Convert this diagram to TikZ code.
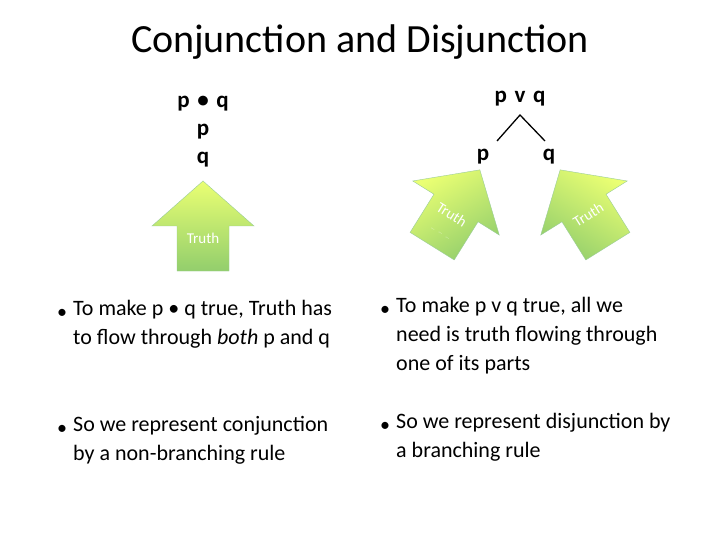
\documentclass[tikz,border=0pt]{standalone}
\usepackage{fontspec}
\setmainfont{Carlito}
\begin{document}
\begin{tikzpicture}[x=1pt,y=-1pt,
  txt/.style={anchor=north west,inner sep=0pt,font=\fontsize{22}{29}\selectfont,align=flush left,text width=262pt},
  bul/.style={anchor=center,inner sep=0pt,font=\fontsize{20}{29}\selectfont},
  sym/.style={inner sep=0pt,font=\fontsize{23}{29}\selectfont\bfseries},
  arr/.style={draw=green!50!black!40,line width=0.4pt,top color=green!15!yellow!55!white,bottom color=green!55!black!50!white!85!yellow},
  lab/.style={text=white,inner sep=0pt,font=\fontsize{15}{15}\selectfont}]
\useasboundingbox (0,0) rectangle (720,540);
\fill[white] (0,0) rectangle (720,540);
\node[inner sep=0pt,font=\fontsize{40}{40}\selectfont] (title) at (360,42) {Conjunction and Disjunction};
% left formulas
\node[sym] (pq) at (203,104) {p\,\,\textbullet\,\,q};
\node[sym] (lp) at (203,132) {p};
\node[sym] (lq) at (203,160) {q};
% right formulas
\node[sym] (pvq) at (520,99) {p\,\,v\,\,q};
\node[sym] (rp) at (483,157) {p};
\node[sym] (rq) at (549,157) {q};
\coordinate (apex) at (520,115);
\draw[line width=1.3pt] (497,141) -- (apex) -- (545,141);
% arrows
\newcommand\uparr[1]{%
  \path[arr,#1] (0,-45) -- (51,0) -- (26,0) -- (26,45) -- (-26,45) -- (-26,0) -- (-51,0) -- cycle;}
\begin{scope}[shift={(203,226)}]
  \uparr{}
  \node[lab] (t1) at (0,12) {Truth};
\end{scope}
\begin{scope}[shift={(456,208)},rotate=-32]
  \uparr{shading angle=32}
  \node[lab,rotate=-32] (t2) at (0,8) {Truth};
  \node[lab,rotate=-32,font=\tiny] (d2) at (0,30) {\dots\quad\dots\quad\dots};
\end{scope}
\begin{scope}[shift={(584,208)},rotate=32]
  \uparr{shading angle=-32}
  \node[lab,rotate=32] (t3) at (0,8) {Truth};
\end{scope}
% bullets left
\node[bul] (b1) at (62,314) {\textbullet};
\node[txt] (x1) at (73,300) {To make p \textbullet\ q true, Truth has to flow through \textit{both} p and q};
\node[bul] (b2) at (62,430) {\textbullet};
\node[txt] (x2) at (73,416) {So we represent conjunction by a non-branching rule};
% bullets right
\node[bul] (b3) at (385,311) {\textbullet};
\node[txt,text width=262pt] (x3) at (396,297) {To make p v q true, all we need is truth flowing through one of its parts};
\node[bul] (b4) at (385,427) {\textbullet};
\node[txt,text width=280pt] (x4) at (396,413) {So we represent disjunction by a branching rule};
\end{tikzpicture}
\end{document}
